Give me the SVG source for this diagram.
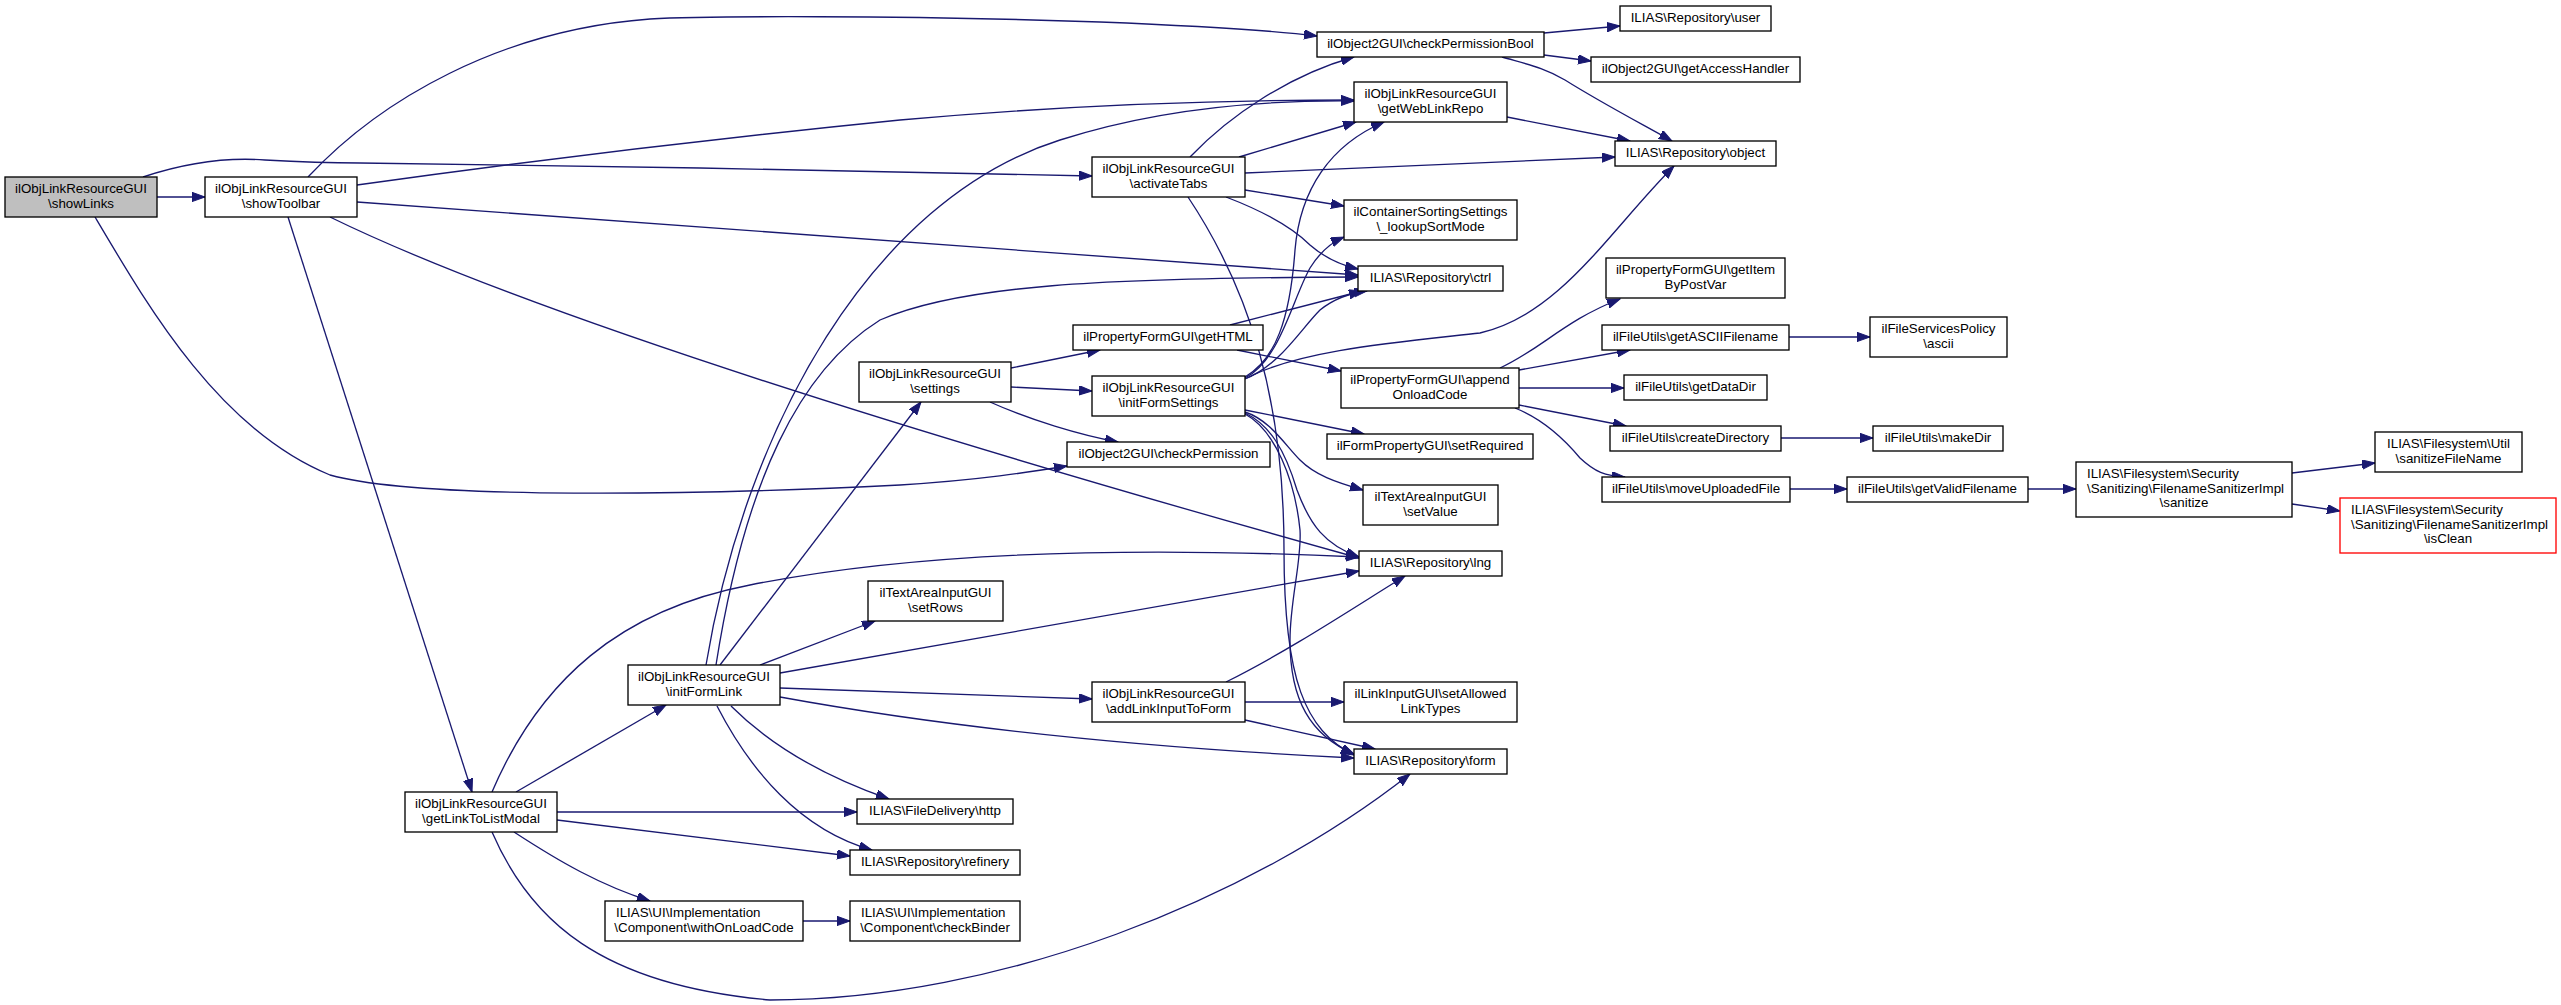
<svg xmlns="http://www.w3.org/2000/svg" width="2561" height="1005" viewBox="0 0 2561 1005">
<style>
.n rect{fill:#ffffff;stroke:#000000;stroke-width:1.33}
.n.root rect{fill:#bfbfbf}
.n.trunc rect{stroke:#ff0000}
text{font-family:"Liberation Sans",Arial,Helvetica,sans-serif;font-size:13.33px;fill:#000000}
.c{text-anchor:middle}
#edges path{fill:none;stroke:#191970;stroke-width:1.33;marker-end:url(#ah)}
</style>
<defs>
<marker id="ah" markerUnits="userSpaceOnUse" markerWidth="14" markerHeight="10" refX="13" refY="4.7" orient="auto">
<path d="M0,0 L13,4.7 L0,9.3 z" fill="#191970" stroke="#191970" stroke-width="1"/>
</marker>
</defs>
<rect width="2561" height="1005" fill="#ffffff"/>
<g id="edges">
<path d="M157,197 L205,197"/>
<path d="M143,177 C185,163 225,157 265,160 C300,162 320,163 360,163 L700,168 C900,171 1000,174 1092,176"/>
<path d="M95,217 C150,310 220,430 330,475 C420,500 700,495 900,485 C980,480 1030,472 1067,466"/>
<path d="M308,177 C380,100 500,30 650,19 C700,16 900,15 1100,22 C1200,26 1270,30 1317,36"/>
<path d="M357,185 C500,165 700,140 900,120 C1100,102 1250,100 1354,100"/>
<path d="M357,202 L1358,275"/>
<path d="M330,217 C520,310 900,430 1359,558"/>
<path d="M288,217 L472,792"/>
<path d="M1190,157 C1230,115 1290,75 1354,57"/>
<path d="M1239,157 L1356,122"/>
<path d="M1245,173 L1615,157"/>
<path d="M1245,190 L1344,206"/>
<path d="M1226,197 C1260,210 1290,225 1310,245 C1325,258 1340,265 1358,269"/>
<path d="M1188,197 C1250,290 1284,400 1284,550 C1284,680 1305,730 1354,755"/>
<path d="M1544,33 L1620,26"/>
<path d="M1544,55 L1591,61"/>
<path d="M1502,57 C1530,65 1545,68 1565,80 C1600,102 1640,123 1672,141"/>
<path d="M1507,117 L1630,141"/>
<path d="M1011,368 L1100,350"/>
<path d="M1011,387 L1092,391"/>
<path d="M990,402 C1030,420 1080,435 1118,442"/>
<path d="M1230,325 L1362,291"/>
<path d="M1237,350 L1341,371"/>
<path d="M1245,379 C1280,365 1300,330 1320,310 C1335,298 1350,293 1367,291"/>
<path d="M1245,378 C1280,360 1292,300 1310,268 C1320,252 1330,243 1344,237"/>
<path d="M1245,377 C1275,360 1290,320 1295,250 C1300,190 1330,145 1384,122"/>
<path d="M1247,378 C1300,350 1400,342 1480,333 C1560,315 1610,230 1674,166"/>
<path d="M1245,410 L1364,434"/>
<path d="M1245,412 C1270,420 1285,445 1300,460 C1315,475 1335,482 1363,490"/>
<path d="M1245,413 C1270,425 1285,450 1297,490 C1310,525 1325,545 1359,557"/>
<path d="M1245,414 C1275,430 1295,480 1300,530 C1302,560 1290,600 1290,640 C1290,700 1310,735 1354,754"/>
<path d="M1500,368 C1540,350 1565,320 1620,299"/>
<path d="M1519,370 L1630,350"/>
<path d="M1519,388 L1624,388"/>
<path d="M1519,405 L1626,426"/>
<path d="M1515,408 C1545,420 1565,440 1580,458 C1595,472 1605,476 1625,477"/>
<path d="M1789,337 L1870,337"/>
<path d="M1781,438 L1873,438"/>
<path d="M1790,489 L1847,489"/>
<path d="M2028,489 L2076,489"/>
<path d="M2292,473 L2375,463"/>
<path d="M2292,504 L2340,511"/>
<path d="M706,665 C745,430 870,200 1060,140 C1160,108 1260,100 1354,101"/>
<path d="M716,665 C745,480 800,370 880,320 C960,285 1100,278 1358,277"/>
<path d="M720,665 L921,402"/>
<path d="M760,665 L875,621"/>
<path d="M780,673 L1359,571"/>
<path d="M780,688 C900,692 1000,695 1092,699"/>
<path d="M780,697 C950,728 1150,748 1354,758"/>
<path d="M731,706 C770,745 820,775 889,799"/>
<path d="M717,706 C750,770 800,830 872,850"/>
<path d="M516,792 L666,705"/>
<path d="M557,812 L857,812"/>
<path d="M557,820 L850,856"/>
<path d="M514,832 C560,862 600,885 650,901"/>
<path d="M492,832 C530,920 600,985 770,1000 C1000,1000 1250,900 1410,774"/>
<path d="M492,792 C540,680 620,610 750,585 C900,555 1100,545 1359,557"/>
<path d="M803,921 L850,921"/>
<path d="M1245,702 L1344,702"/>
<path d="M1245,720 L1375,749"/>
<path d="M1226,682 C1290,650 1350,610 1405,576"/>
</g>
<g id="n1" class="n root"><rect x="5" y="177" width="152" height="40"/><text class="c" x="81" y="193">ilObjLinkResourceGUI</text><text class="c" x="81" y="207.7">\showLinks</text></g>
<g id="n2" class="n"><rect x="205" y="177" width="152" height="40"/><text class="c" x="281" y="193">ilObjLinkResourceGUI</text><text class="c" x="281" y="207.7">\showToolbar</text></g>
<g id="n3" class="n"><rect x="1092" y="157" width="153" height="40"/><text class="c" x="1168.5" y="173">ilObjLinkResourceGUI</text><text class="c" x="1168.5" y="187.7">\activateTabs</text></g>
<g id="n4" class="n"><rect x="1317" y="32" width="227" height="25"/><text class="c" x="1430.5" y="48">ilObject2GUI\checkPermissionBool</text></g>
<g id="n5" class="n"><rect x="1620" y="6" width="151" height="25"/><text class="c" x="1695.5" y="22">ILIAS\Repository\user</text></g>
<g id="n6" class="n"><rect x="1591" y="57" width="209" height="25"/><text class="c" x="1695.5" y="73">ilObject2GUI\getAccessHandler</text></g>
<g id="n7" class="n"><rect x="1354" y="82" width="153" height="40"/><text class="c" x="1430.5" y="98">ilObjLinkResourceGUI</text><text class="c" x="1430.5" y="112.7">\getWebLinkRepo</text></g>
<g id="n8" class="n"><rect x="1615" y="141" width="161" height="25"/><text class="c" x="1695.5" y="157">ILIAS\Repository\object</text></g>
<g id="n9" class="n"><rect x="1344" y="200" width="173" height="40"/><text class="c" x="1430.5" y="216">ilContainerSortingSettings</text><text class="c" x="1430.5" y="230.7">\_lookupSortMode</text></g>
<g id="n10" class="n"><rect x="1358" y="266" width="145" height="25"/><text class="c" x="1430.5" y="282">ILIAS\Repository\ctrl</text></g>
<g id="n11" class="n"><rect x="1606" y="258" width="179" height="40"/><text class="c" x="1695.5" y="274">ilPropertyFormGUI\getItem</text><text class="c" x="1695.5" y="288.7">ByPostVar</text></g>
<g id="n12" class="n"><rect x="1073" y="325" width="190" height="25"/><text class="c" x="1168" y="341">ilPropertyFormGUI\getHTML</text></g>
<g id="n13" class="n"><rect x="1602" y="325" width="187" height="25"/><text class="c" x="1695.5" y="341">ilFileUtils\getASCIIFilename</text></g>
<g id="n14" class="n"><rect x="1870" y="317" width="137" height="40"/><text class="c" x="1938.5" y="333">ilFileServicesPolicy</text><text class="c" x="1938.5" y="347.7">\ascii</text></g>
<g id="n15" class="n"><rect x="859" y="362" width="152" height="40"/><text class="c" x="935" y="378">ilObjLinkResourceGUI</text><text class="c" x="935" y="392.7">\settings</text></g>
<g id="n16" class="n"><rect x="1341" y="368" width="178" height="40"/><text class="c" x="1430" y="384">ilPropertyFormGUI\append</text><text class="c" x="1430" y="398.7">OnloadCode</text></g>
<g id="n17" class="n"><rect x="1624" y="375" width="143" height="25"/><text class="c" x="1695.5" y="391">ilFileUtils\getDataDir</text></g>
<g id="n18" class="n"><rect x="1092" y="376" width="153" height="40"/><text class="c" x="1168.5" y="392">ilObjLinkResourceGUI</text><text class="c" x="1168.5" y="406.7">\initFormSettings</text></g>
<g id="n19" class="n"><rect x="1610" y="426" width="171" height="25"/><text class="c" x="1695.5" y="442">ilFileUtils\createDirectory</text></g>
<g id="n20" class="n"><rect x="1873" y="426" width="130" height="25"/><text class="c" x="1938" y="442">ilFileUtils\makeDir</text></g>
<g id="n21" class="n"><rect x="2375" y="432" width="147" height="40"/><text class="c" x="2448.5" y="448">ILIAS\Filesystem\Util</text><text class="c" x="2448.5" y="462.7">\sanitizeFileName</text></g>
<g id="n22" class="n"><rect x="1327" y="434" width="206" height="25"/><text class="c" x="1430" y="450">ilFormPropertyGUI\setRequired</text></g>
<g id="n23" class="n"><rect x="1067" y="442" width="203" height="25"/><text class="c" x="1168.5" y="458">ilObject2GUI\checkPermission</text></g>
<g id="n24" class="n"><rect x="2076" y="462" width="216" height="55"/><text x="2087" y="478">ILIAS\Filesystem\Security</text><text x="2087" y="492.7">\Sanitizing\FilenameSanitizerImpl</text><text class="c" x="2184" y="507.3">\sanitize</text></g>
<g id="n25" class="n"><rect x="1602" y="477" width="188" height="25"/><text class="c" x="1696" y="493">ilFileUtils\moveUploadedFile</text></g>
<g id="n26" class="n"><rect x="1847" y="477" width="181" height="25"/><text class="c" x="1937.5" y="493">ilFileUtils\getValidFilename</text></g>
<g id="n27" class="n"><rect x="1363" y="485" width="135" height="40"/><text class="c" x="1430.5" y="501">ilTextAreaInputGUI</text><text class="c" x="1430.5" y="515.7">\setValue</text></g>
<g id="n28" class="n trunc"><rect x="2340" y="498" width="216" height="55"/><text x="2351" y="514">ILIAS\Filesystem\Security</text><text x="2351" y="528.7">\Sanitizing\FilenameSanitizerImpl</text><text class="c" x="2448" y="543.3">\isClean</text></g>
<g id="n29" class="n"><rect x="1359" y="551" width="143" height="25"/><text class="c" x="1430.5" y="567">ILIAS\Repository\lng</text></g>
<g id="n30" class="n"><rect x="868" y="581" width="135" height="40"/><text class="c" x="935.5" y="597">ilTextAreaInputGUI</text><text class="c" x="935.5" y="611.7">\setRows</text></g>
<g id="n31" class="n"><rect x="628" y="665" width="152" height="40"/><text class="c" x="704" y="681">ilObjLinkResourceGUI</text><text class="c" x="704" y="695.7">\initFormLink</text></g>
<g id="n32" class="n"><rect x="1092" y="682" width="153" height="40"/><text class="c" x="1168.5" y="698">ilObjLinkResourceGUI</text><text class="c" x="1168.5" y="712.7">\addLinkInputToForm</text></g>
<g id="n33" class="n"><rect x="1344" y="682" width="173" height="40"/><text class="c" x="1430.5" y="698">ilLinkInputGUI\setAllowed</text><text class="c" x="1430.5" y="712.7">LinkTypes</text></g>
<g id="n34" class="n"><rect x="1354" y="749" width="153" height="25"/><text class="c" x="1430.5" y="765">ILIAS\Repository\form</text></g>
<g id="n35" class="n"><rect x="405" y="792" width="152" height="40"/><text class="c" x="481" y="808">ilObjLinkResourceGUI</text><text class="c" x="481" y="822.7">\getLinkToListModal</text></g>
<g id="n36" class="n"><rect x="857" y="799" width="156" height="25"/><text class="c" x="935" y="815">ILIAS\FileDelivery\http</text></g>
<g id="n37" class="n"><rect x="850" y="850" width="170" height="25"/><text class="c" x="935" y="866">ILIAS\Repository\refinery</text></g>
<g id="n38" class="n"><rect x="605" y="901" width="198" height="40"/><text x="616" y="917">ILIAS\UI\Implementation</text><text class="c" x="704" y="931.7">\Component\withOnLoadCode</text></g>
<g id="n39" class="n"><rect x="850" y="901" width="170" height="40"/><text x="861" y="917">ILIAS\UI\Implementation</text><text class="c" x="935" y="931.7">\Component\checkBinder</text></g>
</svg>
